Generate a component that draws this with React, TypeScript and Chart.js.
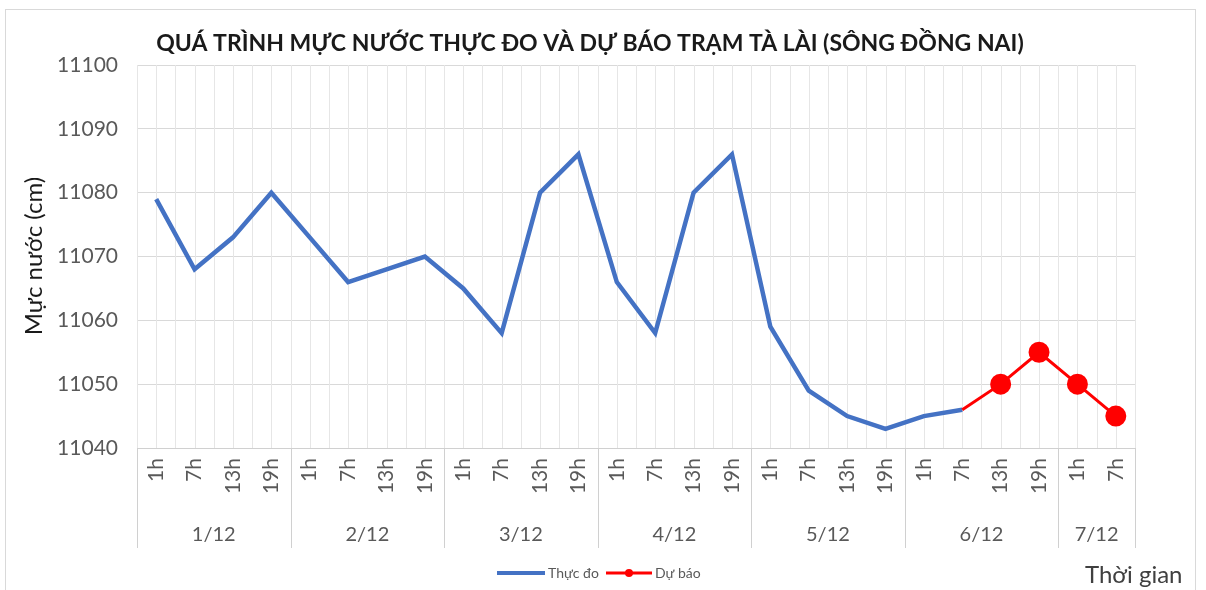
import React, { useEffect, useRef } from 'react';
import { Chart, registerables } from 'chart.js';
Chart.register(...registerables);

const hourLabels = [
  '1h', '7h', '13h', '19h',
  '1h', '7h', '13h', '19h',
  '1h', '7h', '13h', '19h',
  '1h', '7h', '13h', '19h',
  '1h', '7h', '13h', '19h',
  '1h', '7h', '13h', '19h',
  '1h', '7h',
];
const dayLabels = ['1/12', '2/12', '3/12', '4/12', '5/12', '6/12', '7/12'];
const dayCounts = [4, 4, 4, 4, 4, 4, 2];
const thucDo: (number | null)[] = [
  11079, 11068, 11073, 11080,
  11073, 11066, 11068, 11070,
  11065, 11058, 11080, 11086,
  11066, 11058, 11080, 11086,
  11059, 11049, 11045, 11043,
  11045, 11046, null, null,
  null, null,
];
const duBao: (number | null)[] = [
  null, null, null, null,
  null, null, null, null,
  null, null, null, null,
  null, null, null, null,
  null, null, null, null,
  null, 11046, 11050, 11055,
  11050, 11045,
];
const yMin = 11040;
const yMax = 11100;
const yStep = 10;
const title = 'QUÁ TRÌNH MỰC NƯỚC THỰC ĐO VÀ DỰ BÁO TRẠM TÀ LÀI (SÔNG ĐỒNG NAI)';
const yTitle = 'Mực nước (cm)';
const xTitle = 'Thời gian';
const seriesNames = ['Thực đo', 'Dự báo'];

const FONT = 'Lato, "Noto Sans", sans-serif';
const BLUE = '#4472C4';
const RED = '#FF0000';

const overlay = {
  id: 'overlay',
  beforeDraw(chart: any) {
    const ctx = chart.ctx;
    ctx.save();
    ctx.fillStyle = '#ffffff';
    ctx.fillRect(0, 0, chart.width, chart.height);
    ctx.strokeStyle = '#d9d9d9';
    ctx.lineWidth = 1;
    ctx.strokeRect(5.5, 9.5, 1190, 600);
    ctx.restore();
  },
  beforeDatasetsDraw(chart: any) {
    const ctx = chart.ctx;
    const xs = chart.scales.x;
    const area = chart.chartArea;
    const n = hourLabels.length;
    const w = xs.getPixelForValue(1) - xs.getPixelForValue(0);
    ctx.save();
    ctx.strokeStyle = '#e6e6e6';
    ctx.lineWidth = 1;
    for (let i = 0; i <= n; i++) {
      const xb = Math.round(xs.getPixelForValue(i) - w / 2) + 0.5;
      ctx.beginPath();
      ctx.moveTo(xb, area.top);
      ctx.lineTo(xb, area.bottom);
      ctx.stroke();
      if (i < n) {
        const xc = Math.round(xs.getPixelForValue(i)) + 0.5;
        ctx.beginPath();
        ctx.moveTo(xc, area.top);
        ctx.lineTo(xc, area.bottom);
        ctx.stroke();
      }
    }
    ctx.restore();
  },
  afterDraw(chart: any) {
    const ctx = chart.ctx;
    const xs = chart.scales.x;
    const area = chart.chartArea;
    const w = xs.getPixelForValue(1) - xs.getPixelForValue(0);
    ctx.save();
    // x axis line
    ctx.strokeStyle = '#d0d0d0';
    ctx.lineWidth = 1;
    ctx.beginPath();
    ctx.moveTo(area.left, Math.round(area.bottom) + 0.5);
    ctx.lineTo(area.right, Math.round(area.bottom) + 0.5);
    ctx.stroke();
    // group separators & day labels
    let idx = 0;
    ctx.fillStyle = '#595959';
    ctx.font = `20px ${FONT}`;
    ctx.textAlign = 'center';
    ctx.textBaseline = 'middle';
    for (let d = 0; d <= dayCounts.length; d++) {
      const xb = Math.round(xs.getPixelForValue(idx) - w / 2) + 0.5;
      ctx.beginPath();
      ctx.moveTo(xb, area.bottom);
      ctx.lineTo(xb, area.bottom + 100);
      ctx.stroke();
      if (d < dayCounts.length) {
        const c0 = xs.getPixelForValue(idx);
        const c1 = xs.getPixelForValue(idx + dayCounts[d] - 1);
        ctx.fillText(dayLabels[d], (c0 + c1) / 2, area.bottom + 87);
        idx += dayCounts[d];
      }
    }
    // hour labels rotated
    ctx.font = `21px ${FONT}`;
    for (let i = 0; i < hourLabels.length; i++) {
      const x = xs.getPixelForValue(i);
      ctx.save();
      ctx.translate(x, area.bottom + 10);
      ctx.rotate(-Math.PI / 2);
      ctx.textAlign = 'right';
      ctx.textBaseline = 'middle';
      ctx.fillText(hourLabels[i], 0, 0);
      ctx.restore();
    }
    // title
    ctx.fillStyle = '#1a1a1a';
    ctx.font = `bold 23px ${FONT}`;
    ctx.textAlign = 'center';
    ctx.textBaseline = 'middle';
    ctx.fillText(title, 590, 44);
    // y title
    ctx.save();
    ctx.translate(34, 256);
    ctx.rotate(-Math.PI / 2);
    ctx.font = `24px ${FONT}`;
    ctx.fillStyle = '#1a1a1a';
    ctx.fillText(yTitle, 0, 0);
    ctx.restore();
    // x title
    ctx.font = `24px ${FONT}`;
    ctx.fillStyle = '#404040';
    ctx.textAlign = 'left';
    ctx.fillText(xTitle, 1085, 575);
    // legend
    const ly = 573;
    ctx.lineWidth = 4;
    ctx.strokeStyle = BLUE;
    ctx.beginPath();
    ctx.moveTo(497, ly);
    ctx.lineTo(545, ly);
    ctx.stroke();
    ctx.lineWidth = 3;
    ctx.strokeStyle = RED;
    ctx.beginPath();
    ctx.moveTo(606, ly);
    ctx.lineTo(652, ly);
    ctx.stroke();
    ctx.fillStyle = RED;
    ctx.beginPath();
    ctx.arc(629, ly, 4, 0, Math.PI * 2);
    ctx.fill();
    ctx.font = `14px ${FONT}`;
    ctx.fillStyle = '#595959';
    ctx.textAlign = 'left';
    ctx.fillText(seriesNames[0], 548, ly);
    ctx.fillText(seriesNames[1], 655, ly);
    ctx.restore();
  },
};

export default function App() {
  const ref = useRef<HTMLCanvasElement>(null);
  useEffect(() => {
    document.body.style.margin = '0';
    const chart = new Chart(ref.current!, {
      type: 'line',
      data: {
        labels: hourLabels,
        datasets: [
          {
            label: seriesNames[1],
            data: duBao,
            borderColor: RED,
            backgroundColor: RED,
            borderWidth: 3,
            pointRadius: (c: any) => (c.dataIndex === 21 ? 0 : 9),
            pointBackgroundColor: RED,
            pointBorderColor: RED,
            tension: 0,
            order: 0,
          },
          {
            label: seriesNames[0],
            data: thucDo,
            borderColor: BLUE,
            backgroundColor: BLUE,
            borderWidth: 4.5,
            pointRadius: 0,
            tension: 0,
            order: 1,
          },
        ],
      },
      options: {
        animation: false,
        responsive: true,
        maintainAspectRatio: false,
        layout: { padding: { left: 0, top: 65, right: 71, bottom: 142 } },
        plugins: { legend: { display: false }, title: { display: false }, tooltip: { enabled: false } },
        scales: {
          x: { display: false, offset: true },
          y: {
            min: yMin,
            max: yMax,
            ticks: {
              stepSize: yStep,
              color: '#595959',
              font: { family: FONT, size: 21 },
              padding: 19,
              callback: (v: any) => String(v),
            },
            grid: { color: '#d9d9d9', drawTicks: false },
            border: { display: false },
            afterFit: (s: any) => { s.width = 137; },
          },
        },
      },
      plugins: [overlay],
    });
    return () => chart.destroy();
  }, []);
  return (
    <div style={{ width: 1206, height: 590, position: 'relative' }}>
      <canvas ref={ref} />
    </div>
  );
}
